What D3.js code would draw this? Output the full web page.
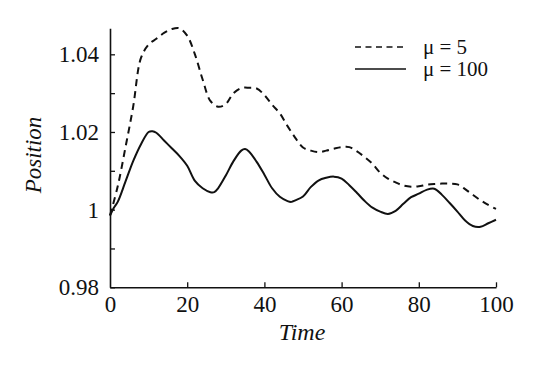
<!DOCTYPE html>
<html>
<head>
<meta charset="utf-8">
<script src="https://d3js.org/d3.v7.min.js"></script>
</head>
<body style="margin:0;background:#fff">
<svg id="chart" width="540" height="373" font-family="Liberation Serif"></svg>
<script>
// time samples and the two position curves
var time5 = [0,2,4,6,8,10,12,14,16,18,20,22,24,26,28,30,32,34,36,38,40,42,44,46,48,50,
  52,54,56,58,60,62,64,66,68,70,72,74,76,78,80,82,84,86,88,90,92,94,96,98,100];
var mu5 = [0.9985,1.006,1.016,1.0265,1.039,1.0425,1.044,1.0455,1.0465,1.0467,1.0448,1.040,
  1.0335,1.028,1.0265,1.0272,1.030,1.0313,1.0314,1.0312,1.0295,1.027,1.0248,1.0215,1.0185,
  1.016,1.0152,1.0148,1.0152,1.0157,1.0161,1.0161,1.015,1.0135,1.0118,1.0095,1.008,1.007,
  1.0062,1.0059,1.006,1.0064,1.0066,1.0067,1.0067,1.0065,1.0053,1.0038,1.0024,1.0012,1.0002];

var time100 = [0,1,2,4,6,8,10,11,12,14,16,18,20,22,24,26,27,28,30,32,34,35,36,38,40,42,44,
  46,47,48,50,52,54,56,58,60,62,64,66,68,70,72,74,76,78,80,82,84,86,88,90,92,94,96,98,100];
var mu100 = [0.9985,1.0005,1.002,1.0072,1.0125,1.0168,1.0200,1.0202,1.0198,1.0178,1.0158,
  1.0138,1.0113,1.0074,1.0055,1.0045,1.0045,1.0055,1.0088,1.0125,1.0152,1.0156,1.0150,
  1.0123,1.0090,1.0055,1.0033,1.0022,1.0020,1.0024,1.0034,1.0058,1.0075,1.0082,1.0085,
  1.0080,1.0063,1.0043,1.0022,1.0005,0.9995,0.9989,0.9997,1.0015,1.0032,1.0041,1.0051,
  1.0054,1.0038,1.0017,0.9995,0.9972,0.9958,0.9956,0.9965,0.9974];

var xTicks = [0, 20, 40, 60, 80, 100];
var yTicks = [0.98, 0.99, 1.00, 1.01, 1.02, 1.03, 1.04];
var yTickLabels = ['0.98', '', '1', '', '1.02', '', '1.04'];
var legendLabels = ['\u03bc = 5', '\u03bc = 100'];

var FONT = 'Liberation Serif';

var svg = d3.select('#chart');

var x = d3.scaleLinear().domain([0, 100]).range([110, 496]);
var y = d3.scaleLinear().domain([0.98, 1.0467]).range([287.3, 28.3]);

// axes, ticks pointing inward
var xAxis = d3.axisBottom(x)
  .tickValues(xTicks)
  .tickFormat(function(d){ return d; })
  .tickSizeInner(-5)
  .tickSizeOuter(0)
  .tickPadding(8);

var yAxis = d3.axisLeft(y)
  .tickValues(yTicks)
  .tickFormat(function(d, i){ return yTickLabels[i]; })
  .tickSizeInner(-5)
  .tickSizeOuter(0)
  .tickPadding(11);

var gx = svg.append('g')
  .attr('transform', 'translate(0,287.3)')
  .call(xAxis);
var gy = svg.append('g')
  .attr('transform', 'translate(110,0)')
  .call(yAxis);

[gx, gy].forEach(function(g){
  g.attr('font-family', FONT).attr('font-size', 23);
  g.select('.domain').attr('stroke', '#111').attr('stroke-width', 1.6);
  g.selectAll('.tick line').attr('stroke', '#111').attr('stroke-width', 1.3);
  g.selectAll('.tick text')
    .attr('font-family', FONT)
    .attr('font-size', 23)
    .attr('fill', '#111');
});
gx.selectAll('.tick').filter(function(d){ return d === 0; }).select('line').remove();

// curves
var line = d3.line()
  .x(function(d){ return x(d[0]); })
  .y(function(d){ return y(d[1]); })
  .curve(d3.curveCatmullRom);

svg.append('path')
  .datum(d3.zip(time5, mu5))
  .attr('d', line)
  .attr('fill', 'none')
  .attr('stroke', '#111')
  .attr('stroke-width', 2)
  .attr('stroke-dasharray', '7,5');

svg.append('path')
  .datum(d3.zip(time100, mu100))
  .attr('d', line)
  .attr('fill', 'none')
  .attr('stroke', '#111')
  .attr('stroke-width', 2);

// axis titles
svg.append('text')
  .attr('x', 302)
  .attr('y', 340)
  .attr('text-anchor', 'middle')
  .attr('font-family', FONT)
  .attr('font-style', 'italic')
  .attr('font-size', 24)
  .attr('fill', '#111')
  .text('Time');

svg.append('text')
  .attr('transform', 'translate(41,155) rotate(-90)')
  .attr('text-anchor', 'middle')
  .attr('font-family', FONT)
  .attr('font-style', 'italic')
  .attr('font-size', 23)
  .attr('fill', '#111')
  .text('Position');

// legend
var legend = svg.append('g');
legendLabels.forEach(function(lab, i){
  var ly = 47 + i * 22;
  legend.append('line')
    .attr('x1', 355).attr('x2', 406)
    .attr('y1', ly).attr('y2', ly)
    .attr('stroke', '#111')
    .attr('stroke-width', 1.6)
    .attr('stroke-dasharray', i === 0 ? '6,4.5' : null);
  legend.append('text')
    .attr('x', 423)
    .attr('y', ly + 6.5)
    .attr('font-family', FONT)
    .attr('font-size', 21)
    .attr('fill', '#111')
    .text(lab);
});
</script>
</body>
</html>
